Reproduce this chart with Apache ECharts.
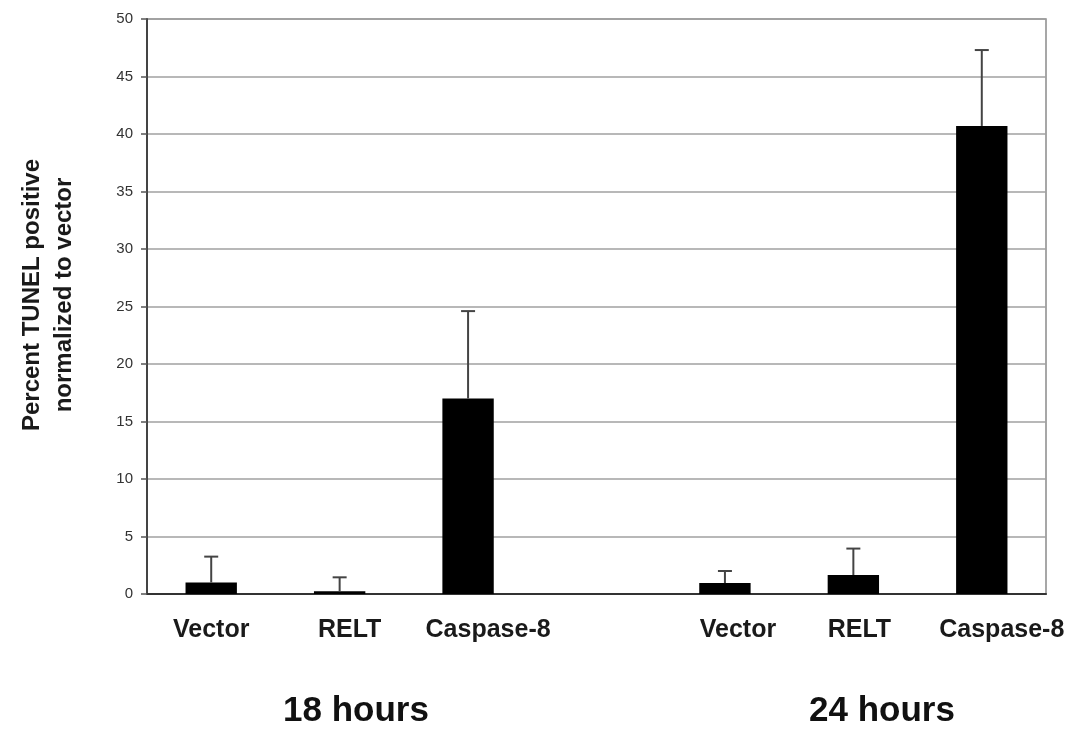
<!DOCTYPE html>
<html>
<head>
<meta charset="utf-8">
<script src="https://cdn.jsdelivr.net/npm/echarts@6/dist/echarts.min.js"></script>
<style>
html,body{margin:0;padding:0;background:#fff;}
#chart{width:1082px;height:735px;}
</style>
</head>
<body>
<div id="chart"></div>
<script>
// ---- data ----
const categories = ['Vector', 'RELT', 'Caspase-8', '', 'Vector', 'RELT', 'Caspase-8'];
const meanValues = [1.0, 0.25, 17.0, null, 0.95, 1.65, 40.7];
const errorValues = [2.25, 1.2, 7.6, null, 1.05, 2.3, 6.6];
const groupLabels = ['18 hours', '24 hours'];
const yTitle = 'Percent TUNEL positive\nnormalized to vector';
const yMin = 0, yMax = 50, yStep = 5;

// label horizontal nudges (style)
const labelShift = [0, 10, 20, 0, 13, 6, 20];

const chart = echarts.init(document.getElementById('chart'));
const FONT = 'Liberation Sans, Arial, sans-serif';

const rich = {};
labelShift.forEach((s, i) => {
  rich['p' + i] = {
    fontFamily: FONT, fontWeight: 'bold', fontSize: 25, color: '#1a1a1a',
    padding: [0, 0, 0, s * 2]
  };
});

const errData = [];
meanValues.forEach((m, i) => {
  if (m != null && errorValues[i] != null) errData.push([i, m, m + errorValues[i]]);
});

const option = {
  animation: false,
  backgroundColor: '#fff',
  grid: {
    left: 147, right: 36, top: 19, bottom: 141,
    show: true, borderColor: '#8a8a8a', borderWidth: 1.5, backgroundColor: 'transparent'
  },
  xAxis: {
    type: 'category',
    data: categories,
    axisLine: { lineStyle: { color: '#333', width: 2 } },
    axisTick: { show: false },
    axisLabel: {
      interval: 0, margin: 24,
      formatter: (v, i) => v ? '{p' + i + '|' + v + '}' : '',
      rich: rich
    },
    splitLine: { show: false }
  },
  yAxis: {
    type: 'value',
    min: yMin, max: yMax, interval: yStep,
    axisLine: { show: true, lineStyle: { color: '#444', width: 2 } },
    axisTick: { show: true, length: 6, lineStyle: { color: '#555', width: 1.5 } },
    axisLabel: { fontFamily: FONT, fontSize: 15, color: '#333', margin: 14 },
    splitLine: { lineStyle: { color: '#a0a0a0', width: 1.5 } }
  },
  series: [
    {
      type: 'bar',
      data: meanValues,
      barWidth: '40%',
      itemStyle: { color: '#000' },
      z: 2
    },
    {
      type: 'custom',
      data: errData,
      encode: { x: 0, y: [1, 2] },
      z: 3,
      renderItem: function (params, api) {
        const i = api.value(0);
        const lo = api.coord([i, api.value(1)]);
        const hi = api.coord([i, api.value(2)]);
        const hw = 7;
        const st = { stroke: '#444', lineWidth: 2 };
        return {
          type: 'group',
          children: [
            { type: 'line', shape: { x1: lo[0], y1: lo[1], x2: hi[0], y2: hi[1] }, style: st },
            { type: 'line', shape: { x1: hi[0] - hw, y1: hi[1], x2: hi[0] + hw, y2: hi[1] }, style: st }
          ]
        };
      }
    }
  ],
  graphic: [
    {
      type: 'text', x: 48, y: 295, rotation: Math.PI / 2,
      style: {
        text: yTitle, fontFamily: FONT, fontWeight: 'bold', fontSize: 24,
        lineHeight: 32, fill: '#1a1a1a', align: 'center', verticalAlign: 'middle'
      }
    },
    {
      type: 'text', x: 356, y: 711,
      style: {
        text: groupLabels[0], fontFamily: FONT, fontWeight: 'bold', fontSize: 35,
        fill: '#111', align: 'center', verticalAlign: 'middle'
      }
    },
    {
      type: 'text', x: 882, y: 711,
      style: {
        text: groupLabels[1], fontFamily: FONT, fontWeight: 'bold', fontSize: 35,
        fill: '#111', align: 'center', verticalAlign: 'middle'
      }
    }
  ]
};
chart.setOption(option);
</script>
</body>
</html>
